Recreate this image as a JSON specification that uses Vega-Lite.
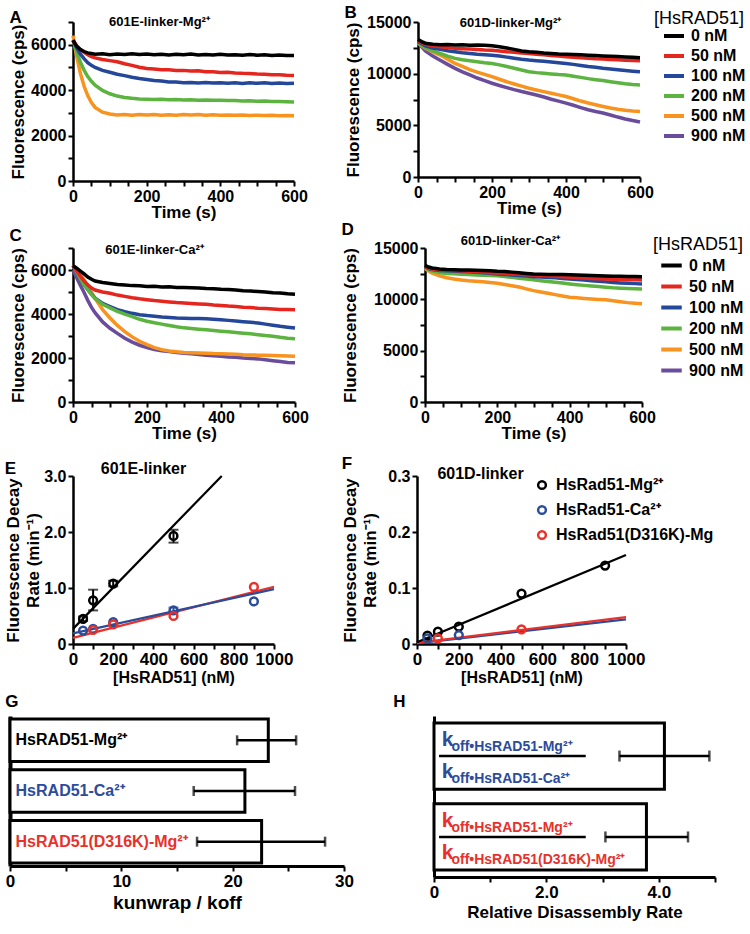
{
"$schema":"https://vega.github.io/schema/vega-lite/v6.json",
"background":"white",
"padding":{"left":4,"top":4,"right":2,"bottom":2},
"config":{
 "font":"Liberation Sans",
 "view":{"stroke":null},
 "axis":{"grid":false,"domainColor":"#000","domainWidth":2.5,"tickColor":"#000","tickWidth":2,"tickSize":5,"labelFont":"Liberation Sans","labelFontSize":16,"labelFontWeight":"bold","labelColor":"#000","labelPadding":2,"labelOverlap":false,"labelFlush":false,"titleFont":"Liberation Sans","titleFontSize":17,"titleFontWeight":"bold","titleColor":"#000","titlePadding":3},
 "title":{"font":"Liberation Sans","fontSize":17,"fontWeight":"bold","color":"#000","anchor":"start","frame":"bounds","baseline":"alphabetic"},
 "legend":{"labelFont":"Liberation Sans","titleFont":"Liberation Sans","labelColor":"#000","titleColor":"#000"}
},
"resolve":{"scale":{"color":"independent"},"legend":{"color":"independent"}},
"spacing":8,
"vconcat":[
{"hconcat":[
 {"width":1,"height":1,"data":{"values":[]},"mark":"rule","encoding":{}},
 {"vconcat":[
{"hconcat":[
 {"width":221,"height":159,"title":{"text":"A","offset":-13},
  "layer":[
   {"data":{"name":"dA"},"mark":{"type":"line","strokeWidth":3.5},
    "encoding":{
     "x":{"field":"t","type":"quantitative","scale":{"domain":[0,600],"nice":false},"axis":{"orient":"bottom","values":[0,50,100,150,200,250,300,350,400,450,500,550,600],"labelExpr":"datum.value % 200 === 0 ? datum.label : ''","title":"Time (s)","titlePadding":0}},
     "y":{"field":"v","type":"quantitative","scale":{"domain":[0,7000],"nice":false},"axis":{"values":[0,1000,2000,3000,4000,5000,6000,7000],"format":"d","labelExpr":"datum.value % 2000 === 0 ? datum.label : ''","title":"Fluorescence (cps)","titlePadding":3}},
     "color":{"field":"c","type":"nominal","sort":null,"scale":{"domain":[0,50,100,200,500,900],"range":["#000000","#e4261f","#24479a","#5cb33f","#f7931e","#6a4c9c"]},"legend":null}}},
   {"data":{"values":[]},"mark":"rule","encoding":{"x":{"field":"t","type":"quantitative","axis":{"orient":"top","domain":false,"ticks":false,"labels":false,"title":"601E-linker-Mg²⁺","titleFontSize":13,"titleX":86,"titleY":3,"titleAlign":"center","titleBaseline":"alphabetic"}}}}
  ]},
 {"width":222,"height":155,"title":{"text":"B","offset":-12},
  "layer":[
   {"data":{"name":"dB"},"mark":{"type":"line","strokeWidth":3.5},
    "encoding":{
     "x":{"field":"t","type":"quantitative","scale":{"domain":[0,600],"nice":false},"axis":{"orient":"bottom","values":[0,50,100,150,200,250,300,350,400,450,500,550,600],"labelExpr":"datum.value % 200 === 0 ? datum.label : ''","title":"Time (s)","titlePadding":0}},
     "y":{"field":"v","type":"quantitative","scale":{"domain":[0,15000],"nice":false},"axis":{"values":[0,2500,5000,7500,10000,12500,15000],"format":"d","labelExpr":"datum.value % 5000 === 0 ? datum.label : ''","title":"Fluorescence (cps)","titlePadding":4}},
     "color":{"field":"c","type":"nominal","sort":null,"scale":{"domain":[0,50,100,200,500,900],"range":["#000000","#e4261f","#24479a","#5cb33f","#f7931e","#6a4c9c"]},
      "legend":{"orient":"none","legendX":236,"legendY":-12,"title":"[HsRAD51]","titleFontSize":18,"titleFontWeight":"normal","titlePadding":-4,"symbolType":"stroke","symbolStrokeWidth":4,"symbolSize":400,"symbolOffset":8,"labelFontSize":16,"labelFontWeight":"bold","labelOffset":5,"rowPadding":0,"padding":0,"labelExpr":"datum.label + ' nM'"}}}},
   {"data":{"values":[]},"mark":"rule","encoding":{"x":{"field":"t","type":"quantitative","axis":{"orient":"top","domain":false,"ticks":false,"labels":false,"title":"601D-linker-Mg²⁺","titleFontSize":13,"titleX":92,"titleY":4,"titleAlign":"center","titleBaseline":"alphabetic"}}}}
  ]}
 ],"spacing":36,"resolve":{"scale":{"color":"independent"},"legend":{"color":"independent"}}},
{"vconcat":[
{"hconcat":[
 {"width":222,"height":154,"title":{"text":"C","offset":-5},
  "layer":[
   {"data":{"name":"dC"},"mark":{"type":"line","strokeWidth":3.5},
    "encoding":{
     "x":{"field":"t","type":"quantitative","scale":{"domain":[0,600],"nice":false},"axis":{"orient":"bottom","values":[0,50,100,150,200,250,300,350,400,450,500,550,600],"labelExpr":"datum.value % 200 === 0 ? datum.label : ''","title":"Time (s)","titlePadding":0}},
     "y":{"field":"v","type":"quantitative","scale":{"domain":[0,7000],"nice":false},"axis":{"values":[0,1000,2000,3000,4000,5000,6000,7000],"format":"d","labelExpr":"datum.value % 2000 === 0 ? datum.label : ''","title":"Fluorescence (cps)","titlePadding":3}},
     "color":{"field":"c","type":"nominal","sort":null,"scale":{"domain":[0,50,100,200,500,900],"range":["#000000","#e4261f","#24479a","#5cb33f","#f7931e","#6a4c9c"]},"legend":null}}},
   {"data":{"values":[]},"mark":"rule","encoding":{"x":{"field":"t","type":"quantitative","axis":{"orient":"top","domain":false,"ticks":false,"labels":false,"title":"601E-linker-Ca²⁺","titleFontSize":13,"titleX":81,"titleY":5,"titleAlign":"center","titleBaseline":"alphabetic"}}}}
  ]},
 {"width":217,"height":154,"title":{"text":"D","offset":-5},
  "layer":[
   {"data":{"name":"dD"},"mark":{"type":"line","strokeWidth":3.5},
    "encoding":{
     "x":{"field":"t","type":"quantitative","scale":{"domain":[0,600],"nice":false},"axis":{"orient":"bottom","values":[0,50,100,150,200,250,300,350,400,450,500,550,600],"labelExpr":"datum.value % 200 === 0 ? datum.label : ''","title":"Time (s)","titlePadding":0}},
     "y":{"field":"v","type":"quantitative","scale":{"domain":[0,15000],"nice":false},"axis":{"values":[0,2500,5000,7500,10000,12500,15000],"format":"d","labelExpr":"datum.value % 5000 === 0 ? datum.label : ''","title":"Fluorescence (cps)","titlePadding":14}},
     "color":{"field":"c","type":"nominal","sort":null,"scale":{"domain":[0,50,100,200,500,900],"range":["#000000","#e4261f","#24479a","#5cb33f","#f7931e","#6a4c9c"]},
      "legend":{"orient":"none","legendX":228,"legendY":-12,"title":"[HsRAD51]","titleFontSize":18,"titleFontWeight":"normal","titlePadding":-1,"symbolType":"stroke","symbolStrokeWidth":4,"symbolSize":420,"symbolOffset":6,"labelFontSize":16,"labelFontWeight":"bold","labelOffset":5,"rowPadding":0,"padding":0,"labelExpr":"datum.label + ' nM'"}}}},
   {"data":{"values":[]},"mark":"rule","encoding":{"x":{"field":"t","type":"quantitative","axis":{"orient":"top","domain":false,"ticks":false,"labels":false,"title":"601D-linker-Ca²⁺","titleFontSize":13,"titleX":85,"titleY":-4,"titleAlign":"center","titleBaseline":"alphabetic"}}}}
  ]}
 ],"spacing":32,"resolve":{"scale":{"color":"independent"},"legend":{"color":"independent"}}},
{"hconcat":[
 {"width":201,"height":168,"title":{"text":"E","offset":-18},
  "layer":[
   {"data":{"name":"fE"},"mark":{"type":"line","strokeWidth":2.2},
    "encoding":{
     "x":{"field":"x","type":"quantitative","scale":{"domain":[0,1000],"nice":false},"axis":{"orient":"bottom","values":[0,100,200,300,400,500,600,700,800,900,1000],"format":"d","labelExpr":"datum.value % 200 === 0 ? datum.label : ''","title":"[HsRAD51] (nM)","titleFontSize":16,"labelFontSize":17,"titlePadding":2}},
     "y":{"field":"y","type":"quantitative","scale":{"domain":[0,3],"nice":false},"axis":{"values":[0,0.5,1,1.5,2,2.5,3],"labelExpr":"datum.value === 0 ? '0' : (datum.value % 1 === 0 ? format(datum.value, '.1f') : '')","title":["Fluorescence Decay","Rate (min⁻¹)"],"titleLineHeight":20,"titlePadding":1}},
     "color":{"field":"s","type":"nominal","sort":null,"scale":{"domain":["HsRad51-Mg²⁺","HsRad51-Ca²⁺","HsRad51(D316K)-Mg"],"range":["#000000","#2b4c9b","#e8312a"]},"legend":null}}},
   {"data":{"name":"pE"},"transform":[{"filter":"isValid(datum.lo)"}],"mark":{"type":"rule","strokeWidth":2},
    "encoding":{"x":{"field":"x","type":"quantitative","axis":null},"y":{"field":"lo","type":"quantitative"},"y2":{"field":"hi"},"color":{"field":"s","type":"nominal","legend":null}}},
   {"data":{"name":"pE"},"transform":[{"filter":"isValid(datum.lo)"}],"mark":{"type":"tick","orient":"horizontal","size":10,"thickness":2},
    "encoding":{"x":{"field":"x","type":"quantitative","axis":null},"y":{"field":"lo","type":"quantitative"},"color":{"field":"s","type":"nominal","legend":null}}},
   {"data":{"name":"pE"},"transform":[{"filter":"isValid(datum.lo)"}],"mark":{"type":"tick","orient":"horizontal","size":10,"thickness":2},
    "encoding":{"x":{"field":"x","type":"quantitative","axis":null},"y":{"field":"hi","type":"quantitative"},"color":{"field":"s","type":"nominal","legend":null}}},
   {"data":{"name":"pE"},"mark":{"type":"point","shape":"circle","filled":false,"strokeWidth":2.5,"size":60,"opacity":1},
    "encoding":{"x":{"field":"x","type":"quantitative","axis":null},"y":{"field":"y","type":"quantitative"},"color":{"field":"s","type":"nominal","legend":null}}},
   {"data":{"values":[]},"mark":"rule","encoding":{"x":{"field":"x","type":"quantitative","axis":{"orient":"top","domain":false,"ticks":false,"labels":false,"title":"601E-linker","titleFontSize":16,"titleX":70,"titleY":-3,"titleAlign":"center","titleBaseline":"alphabetic"}}}}
  ]},
 {"width":209,"height":168,"title":{"text":"F","offset":-8},
  "layer":[
   {"data":{"name":"fF"},"mark":{"type":"line","strokeWidth":2.2},
    "encoding":{
     "x":{"field":"x","type":"quantitative","scale":{"domain":[0,1000],"nice":false},"axis":{"orient":"bottom","values":[0,100,200,300,400,500,600,700,800,900,1000],"format":"d","labelExpr":"datum.value % 200 === 0 ? datum.label : ''","title":"[HsRAD51] (nM)","titleFontSize":16,"labelFontSize":17,"titlePadding":2}},
     "y":{"field":"y","type":"quantitative","scale":{"domain":[0,0.3],"nice":false},"axis":{"values":[0,0.05,0.1,0.15,0.2,0.25,0.3],"labelExpr":"datum.value === 0 ? '0' : (abs(datum.value*10 - round(datum.value*10)) < 0.001 ? format(datum.value, '.1f') : '')","title":["Fluorescence Decay","Rate (min⁻¹)"],"titleLineHeight":20,"titlePadding":8}},
     "color":{"field":"s","type":"nominal","sort":null,"scale":{"domain":["HsRad51-Mg²⁺","HsRad51-Ca²⁺","HsRad51(D316K)-Mg"],"range":["#000000","#2b4c9b","#e8312a"]},
      "legend":{"orient":"none","legendX":117,"legendY":1,"title":null,"symbolType":"circle","symbolSize":60,"symbolStrokeWidth":2.5,"symbolFillColor":"transparent","labelFontSize":16,"labelFontWeight":"bold","labelOffset":6,"rowPadding":7,"padding":0}}}},
   {"data":{"name":"pF"},"mark":{"type":"point","shape":"circle","filled":false,"strokeWidth":2.5,"size":60,"opacity":1},
    "encoding":{"x":{"field":"x","type":"quantitative","axis":null},"y":{"field":"y","type":"quantitative"},"color":{"field":"s","type":"nominal",
      "legend":{"orient":"none","legendX":117,"legendY":1,"title":null,"symbolType":"circle","symbolSize":60,"symbolStrokeWidth":2.5,"symbolFillColor":"transparent","labelFontSize":16,"labelFontWeight":"bold","labelOffset":6,"rowPadding":7,"padding":0}}}},
   {"data":{"values":[]},"mark":"rule","encoding":{"x":{"field":"x","type":"quantitative","axis":{"orient":"top","domain":false,"ticks":false,"labels":false,"title":"601D-linker","titleFontSize":16,"titleX":63,"titleY":2,"titleAlign":"center","titleBaseline":"alphabetic"}}}}
  ]}
 ],"spacing":48,"resolve":{"scale":{"color":"independent"},"legend":{"color":"independent"}}}
 ],"spacing":14,"resolve":{"scale":{"color":"independent"},"legend":{"color":"independent"}}}
 ],"spacing":1,"resolve":{"scale":{"color":"independent"},"legend":{"color":"independent"}}}
 ],"spacing":-7,"resolve":{"scale":{"color":"independent"},"legend":{"color":"independent"}}},
{"hconcat":[
 {"width":334,"height":150,"title":{"text":"G","offset":5},
  "data":{"name":"dG"},
  "encoding":{"y":{"field":"k","type":"nominal","sort":null,"scale":{"paddingInner":0.16,"paddingOuter":0.06},"axis":{"title":null,"labels":false,"ticks":false,"domainWidth":4}}},
  "layer":[
   {"mark":{"type":"bar","fill":"#ffffff","stroke":"#000000","strokeWidth":3},
    "encoding":{"x":{"field":"v","type":"quantitative","scale":{"domain":[0,30],"nice":false},"axis":{"orient":"bottom","values":[0,5,10,15,20,25,30],"labelExpr":"datum.value % 10 === 0 ? datum.label : ''","title":"kunwrap / koff","titleFontSize":19,"titlePadding":4,"domainWidth":3,"labelFontSize":17}}}},
   {"mark":{"type":"rule","strokeWidth":2.5,"color":"#000000"},"encoding":{"x":{"field":"lo","type":"quantitative"},"x2":{"field":"hi"}}},
   {"mark":{"type":"tick","size":10,"thickness":2.5,"color":"#000000"},"encoding":{"x":{"field":"lo","type":"quantitative"}}},
   {"mark":{"type":"tick","size":10,"thickness":2.5,"color":"#000000"},"encoding":{"x":{"field":"hi","type":"quantitative"}}},
   {"mark":{"type":"text","align":"left","baseline":"middle","fontSize":16,"fontWeight":"bold"},
    "encoding":{"x":{"datum":0.5},"text":{"field":"k"},"color":{"field":"k","type":"nominal","sort":null,"scale":{"domain":["HsRAD51-Mg²⁺","HsRAD51-Ca²⁺","HsRAD51(D316K)-Mg²⁺"],"range":["#000000","#2b4c9b","#e8312a"]},"legend":null}}}
  ]},
 {"width":281,"height":161,"title":{"text":"H","offset":5,"dx":-36},
  "data":{"name":"dH"},
  "encoding":{"y":{"field":"k","type":"nominal","sort":null,"scale":{"paddingInner":0.18,"paddingOuter":0.085},"axis":{"title":null,"labels":false,"ticks":false,"domainWidth":3}}},
  "layer":[
   {"mark":{"type":"bar","fill":"#ffffff","stroke":"#000000","strokeWidth":3},
    "encoding":{"x":{"field":"v","type":"quantitative","scale":{"domain":[0,5],"nice":false},"axis":{"orient":"bottom","values":[0,1,2,3,4,5],"labelExpr":"datum.value % 2 === 0 ? (datum.value === 0 ? '0' : format(datum.value, '.1f')) : ''","title":"Relative Disassembly Rate","titleFontSize":17,"titlePadding":4,"domainWidth":3,"labelFontSize":17}}}},
   {"mark":{"type":"rule","strokeWidth":2.5,"color":"#000000"},"encoding":{"x":{"field":"lo","type":"quantitative"},"x2":{"field":"hi"}}},
   {"mark":{"type":"tick","size":11,"thickness":2.5,"color":"#000000"},"encoding":{"x":{"field":"lo","type":"quantitative"}}},
   {"mark":{"type":"tick","size":11,"thickness":2.5,"color":"#000000"},"encoding":{"x":{"field":"hi","type":"quantitative"}}},
   {"mark":{"type":"rule","strokeWidth":2.5,"color":"#000000"},"encoding":{"x":{"datum":0.09},"x2":{"datum":2.7}}},
   {"mark":{"type":"text","text":"k","align":"left","baseline":"alphabetic","fontSize":21,"fontWeight":"bold","dy":-10},
    "encoding":{"x":{"datum":0.14},"color":{"field":"k","type":"nominal","sort":null,"scale":{"domain":["ca","d316k"],"range":["#2b4c9b","#e8312a"]},"legend":null}}},
   {"mark":{"type":"text","text":"k","align":"left","baseline":"alphabetic","fontSize":21,"fontWeight":"bold","dy":22},
    "encoding":{"x":{"datum":0.14},"color":{"field":"k","type":"nominal","sort":null,"legend":null}}},
   {"mark":{"type":"text","align":"left","baseline":"alphabetic","fontSize":14,"fontWeight":"bold","dy":-5},
    "encoding":{"x":{"datum":0.31},"text":{"field":"num"},"color":{"field":"k","type":"nominal","sort":null,"legend":null}}},
   {"mark":{"type":"text","align":"left","baseline":"alphabetic","fontSize":14,"fontWeight":"bold","dy":27},
    "encoding":{"x":{"datum":0.31},"text":{"field":"den"},"color":{"field":"k","type":"nominal","sort":null,"legend":null}}}
  ]}
 ],"spacing":39,"resolve":{"scale":{"color":"independent"},"legend":{"color":"independent"}}}
],
"datasets":{
"fE":[{"s":"HsRad51(D316K)-Mg","x":0,"y":0.11},{"s":"HsRad51(D316K)-Mg","x":1000,"y":1.02},{"s":"HsRad51-Ca²⁺","x":0,"y":0.19},{"s":"HsRad51-Ca²⁺","x":1000,"y":0.98},{"s":"HsRad51-Mg²⁺","x":0,"y":0.27},{"s":"HsRad51-Mg²⁺","x":740,"y":3.0}],
"pE":[{"s":"HsRad51-Mg²⁺","x":50,"y":0.45,"lo":0.41,"hi":0.49},{"s":"HsRad51-Mg²⁺","x":100,"y":0.78,"lo":0.6,"hi":0.97},{"s":"HsRad51-Mg²⁺","x":200,"y":1.08,"lo":1.03,"hi":1.13},{"s":"HsRad51-Mg²⁺","x":500,"y":1.93,"lo":1.81,"hi":2.04},{"s":"HsRad51-Ca²⁺","x":50,"y":0.24},{"s":"HsRad51-Ca²⁺","x":100,"y":0.27},{"s":"HsRad51-Ca²⁺","x":200,"y":0.39},{"s":"HsRad51-Ca²⁺","x":500,"y":0.6,"lo":0.56,"hi":0.65},{"s":"HsRad51-Ca²⁺","x":900,"y":0.76},{"s":"HsRad51(D316K)-Mg","x":100,"y":0.25},{"s":"HsRad51(D316K)-Mg","x":200,"y":0.35},{"s":"HsRad51(D316K)-Mg","x":500,"y":0.5},{"s":"HsRad51(D316K)-Mg","x":900,"y":1.02}],
"fF":[{"s":"HsRad51-Ca²⁺","x":0,"y":0.001},{"s":"HsRad51-Ca²⁺","x":1000,"y":0.044},{"s":"HsRad51(D316K)-Mg","x":0,"y":0.002},{"s":"HsRad51(D316K)-Mg","x":1000,"y":0.048},{"s":"HsRad51-Mg²⁺","x":0,"y":0.003},{"s":"HsRad51-Mg²⁺","x":1000,"y":0.159}],
"pF":[{"s":"HsRad51-Mg²⁺","x":50,"y":0.015},{"s":"HsRad51-Mg²⁺","x":100,"y":0.022},{"s":"HsRad51-Mg²⁺","x":200,"y":0.031},{"s":"HsRad51-Mg²⁺","x":500,"y":0.09},{"s":"HsRad51-Mg²⁺","x":900,"y":0.14},{"s":"HsRad51-Ca²⁺","x":50,"y":0.01},{"s":"HsRad51-Ca²⁺","x":200,"y":0.016},{"s":"HsRad51(D316K)-Mg","x":100,"y":0.01},{"s":"HsRad51(D316K)-Mg","x":500,"y":0.026}],
"dG":[{"k":"HsRAD51-Mg²⁺","v":23.2,"lo":20.4,"hi":25.7},{"k":"HsRAD51-Ca²⁺","v":21.1,"lo":16.5,"hi":25.6},{"k":"HsRAD51(D316K)-Mg²⁺","v":22.6,"lo":16.8,"hi":28.3}],
"dH":[{"k":"ca","v":4.1,"lo":3.3,"hi":4.9,"num":"off•HsRAD51-Mg²⁺","den":"off•HsRAD51-Ca²⁺"},{"k":"d316k","v":3.78,"lo":3.05,"hi":4.52,"num":"off•HsRAD51-Mg²⁺","den":"off•HsRAD51(D316K)-Mg²⁺"}],
"dA":[
{"c":500,"t":0,"v":6400},{"c":500,"t":10,"v":5480},{"c":500,"t":20,"v":4740},{"c":500,"t":30,"v":4180},{"c":500,"t":40,"v":3760},{"c":500,"t":50,"v":3450},{"c":500,"t":60,"v":3240},{"c":500,"t":80,"v":3030},{"c":500,"t":100,"v":2950},{"c":500,"t":120,"v":2910},{"c":500,"t":140,"v":2930},{"c":500,"t":160,"v":2900},{"c":500,"t":180,"v":2930},{"c":500,"t":200,"v":2910},{"c":500,"t":220,"v":2930},{"c":500,"t":240,"v":2900},{"c":500,"t":260,"v":2920},{"c":500,"t":280,"v":2900},{"c":500,"t":300,"v":2930},{"c":500,"t":320,"v":2910},{"c":500,"t":340,"v":2930},{"c":500,"t":360,"v":2900},{"c":500,"t":380,"v":2920},{"c":500,"t":400,"v":2900},{"c":500,"t":420,"v":2910},{"c":500,"t":440,"v":2890},{"c":500,"t":460,"v":2910},{"c":500,"t":480,"v":2880},{"c":500,"t":500,"v":2900},{"c":500,"t":520,"v":2880},{"c":500,"t":540,"v":2890},{"c":500,"t":560,"v":2870},{"c":500,"t":580,"v":2880},{"c":500,"t":600,"v":2870},
{"c":200,"t":0,"v":6200},{"c":200,"t":10,"v":5680},{"c":200,"t":20,"v":5240},{"c":200,"t":30,"v":4880},{"c":200,"t":40,"v":4600},{"c":200,"t":50,"v":4390},{"c":200,"t":60,"v":4220},{"c":200,"t":80,"v":3990},{"c":200,"t":100,"v":3840},{"c":200,"t":120,"v":3740},{"c":200,"t":140,"v":3680},{"c":200,"t":160,"v":3640},{"c":200,"t":180,"v":3610},{"c":200,"t":200,"v":3600},{"c":200,"t":220,"v":3590},{"c":200,"t":240,"v":3600},{"c":200,"t":260,"v":3580},{"c":200,"t":280,"v":3590},{"c":200,"t":300,"v":3570},{"c":200,"t":320,"v":3580},{"c":200,"t":340,"v":3560},{"c":200,"t":360,"v":3570},{"c":200,"t":380,"v":3550},{"c":200,"t":400,"v":3560},{"c":200,"t":420,"v":3540},{"c":200,"t":440,"v":3540},{"c":200,"t":460,"v":3520},{"c":200,"t":480,"v":3530},{"c":200,"t":500,"v":3510},{"c":200,"t":520,"v":3520},{"c":200,"t":540,"v":3500},{"c":200,"t":560,"v":3500},{"c":200,"t":580,"v":3490},{"c":200,"t":600,"v":3480},
{"c":100,"t":0,"v":6200},{"c":100,"t":10,"v":5860},{"c":100,"t":20,"v":5590},{"c":100,"t":30,"v":5390},{"c":100,"t":40,"v":5210},{"c":100,"t":50,"v":5090},{"c":100,"t":60,"v":5000},{"c":100,"t":80,"v":4870},{"c":100,"t":100,"v":4790},{"c":100,"t":120,"v":4700},{"c":100,"t":140,"v":4640},{"c":100,"t":160,"v":4570},{"c":100,"t":180,"v":4510},{"c":100,"t":200,"v":4470},{"c":100,"t":220,"v":4420},{"c":100,"t":240,"v":4400},{"c":100,"t":260,"v":4360},{"c":100,"t":280,"v":4360},{"c":100,"t":300,"v":4330},{"c":100,"t":320,"v":4340},{"c":100,"t":340,"v":4320},{"c":100,"t":360,"v":4340},{"c":100,"t":380,"v":4310},{"c":100,"t":400,"v":4330},{"c":100,"t":420,"v":4300},{"c":100,"t":440,"v":4320},{"c":100,"t":460,"v":4290},{"c":100,"t":480,"v":4320},{"c":100,"t":500,"v":4300},{"c":100,"t":520,"v":4320},{"c":100,"t":540,"v":4290},{"c":100,"t":560,"v":4310},{"c":100,"t":580,"v":4290},{"c":100,"t":600,"v":4300},
{"c":50,"t":0,"v":6200},{"c":50,"t":10,"v":5960},{"c":50,"t":20,"v":5790},{"c":50,"t":30,"v":5660},{"c":50,"t":40,"v":5560},{"c":50,"t":50,"v":5470},{"c":50,"t":60,"v":5420},{"c":50,"t":80,"v":5350},{"c":50,"t":100,"v":5300},{"c":50,"t":120,"v":5250},{"c":50,"t":140,"v":5160},{"c":50,"t":160,"v":5090},{"c":50,"t":180,"v":5010},{"c":50,"t":200,"v":4950},{"c":50,"t":220,"v":4930},{"c":50,"t":240,"v":4900},{"c":50,"t":260,"v":4900},{"c":50,"t":280,"v":4870},{"c":50,"t":300,"v":4870},{"c":50,"t":320,"v":4840},{"c":50,"t":340,"v":4850},{"c":50,"t":360,"v":4810},{"c":50,"t":380,"v":4810},{"c":50,"t":400,"v":4780},{"c":50,"t":420,"v":4790},{"c":50,"t":440,"v":4760},{"c":50,"t":460,"v":4740},{"c":50,"t":480,"v":4730},{"c":50,"t":500,"v":4710},{"c":50,"t":520,"v":4700},{"c":50,"t":540,"v":4680},{"c":50,"t":560,"v":4680},{"c":50,"t":580,"v":4660},{"c":50,"t":600,"v":4650},
{"c":0,"t":0,"v":6200},{"c":0,"t":10,"v":5930},{"c":0,"t":20,"v":5790},{"c":0,"t":30,"v":5700},{"c":0,"t":40,"v":5640},{"c":0,"t":50,"v":5610},{"c":0,"t":60,"v":5580},{"c":0,"t":80,"v":5600},{"c":0,"t":100,"v":5560},{"c":0,"t":120,"v":5590},{"c":0,"t":140,"v":5570},{"c":0,"t":160,"v":5600},{"c":0,"t":180,"v":5570},{"c":0,"t":200,"v":5590},{"c":0,"t":220,"v":5560},{"c":0,"t":240,"v":5580},{"c":0,"t":260,"v":5550},{"c":0,"t":280,"v":5580},{"c":0,"t":300,"v":5560},{"c":0,"t":320,"v":5590},{"c":0,"t":340,"v":5550},{"c":0,"t":360,"v":5570},{"c":0,"t":380,"v":5550},{"c":0,"t":400,"v":5580},{"c":0,"t":420,"v":5550},{"c":0,"t":440,"v":5560},{"c":0,"t":460,"v":5540},{"c":0,"t":480,"v":5570},{"c":0,"t":500,"v":5540},{"c":0,"t":520,"v":5560},{"c":0,"t":540,"v":5530},{"c":0,"t":560,"v":5550},{"c":0,"t":580,"v":5530},{"c":0,"t":600,"v":5530}
],
"dB":[
{"c":900,"t":0,"v":13000},{"c":900,"t":10,"v":12600},{"c":900,"t":20,"v":12200},{"c":900,"t":40,"v":11700},{"c":900,"t":60,"v":11300},{"c":900,"t":80,"v":10900},{"c":900,"t":100,"v":10510},{"c":900,"t":120,"v":10180},{"c":900,"t":140,"v":9880},{"c":900,"t":160,"v":9580},{"c":900,"t":180,"v":9320},{"c":900,"t":200,"v":9070},{"c":900,"t":220,"v":8860},{"c":900,"t":240,"v":8650},{"c":900,"t":260,"v":8450},{"c":900,"t":280,"v":8270},{"c":900,"t":300,"v":8110},{"c":900,"t":320,"v":7930},{"c":900,"t":340,"v":7740},{"c":900,"t":360,"v":7530},{"c":900,"t":380,"v":7340},{"c":900,"t":400,"v":7150},{"c":900,"t":420,"v":6940},{"c":900,"t":440,"v":6720},{"c":900,"t":460,"v":6510},{"c":900,"t":480,"v":6340},{"c":900,"t":500,"v":6190},{"c":900,"t":520,"v":6000},{"c":900,"t":540,"v":5800},{"c":900,"t":560,"v":5620},{"c":900,"t":580,"v":5460},{"c":900,"t":600,"v":5320},
{"c":500,"t":0,"v":13000},{"c":500,"t":10,"v":12700},{"c":500,"t":20,"v":12450},{"c":500,"t":40,"v":12100},{"c":500,"t":60,"v":11800},{"c":500,"t":80,"v":11400},{"c":500,"t":100,"v":11000},{"c":500,"t":120,"v":10700},{"c":500,"t":140,"v":10400},{"c":500,"t":160,"v":10150},{"c":500,"t":180,"v":9930},{"c":500,"t":200,"v":9710},{"c":500,"t":220,"v":9460},{"c":500,"t":240,"v":9220},{"c":500,"t":260,"v":9000},{"c":500,"t":280,"v":8790},{"c":500,"t":300,"v":8590},{"c":500,"t":320,"v":8420},{"c":500,"t":340,"v":8260},{"c":500,"t":360,"v":8100},{"c":500,"t":380,"v":7950},{"c":500,"t":400,"v":7790},{"c":500,"t":420,"v":7570},{"c":500,"t":440,"v":7350},{"c":500,"t":460,"v":7160},{"c":500,"t":480,"v":6990},{"c":500,"t":500,"v":6830},{"c":500,"t":520,"v":6680},{"c":500,"t":540,"v":6550},{"c":500,"t":560,"v":6450},{"c":500,"t":580,"v":6380},{"c":500,"t":600,"v":6350},
{"c":200,"t":0,"v":13000},{"c":200,"t":10,"v":12750},{"c":200,"t":20,"v":12500},{"c":200,"t":40,"v":12200},{"c":200,"t":60,"v":11950},{"c":200,"t":80,"v":11700},{"c":200,"t":100,"v":11480},{"c":200,"t":120,"v":11350},{"c":200,"t":140,"v":11250},{"c":200,"t":160,"v":11150},{"c":200,"t":180,"v":11060},{"c":200,"t":200,"v":10990},{"c":200,"t":220,"v":10850},{"c":200,"t":240,"v":10700},{"c":200,"t":260,"v":10530},{"c":200,"t":280,"v":10350},{"c":200,"t":300,"v":10190},{"c":200,"t":320,"v":10100},{"c":200,"t":340,"v":10030},{"c":200,"t":360,"v":9970},{"c":200,"t":380,"v":9910},{"c":200,"t":400,"v":9870},{"c":200,"t":420,"v":9760},{"c":200,"t":440,"v":9640},{"c":200,"t":460,"v":9520},{"c":200,"t":480,"v":9420},{"c":200,"t":500,"v":9330},{"c":200,"t":520,"v":9220},{"c":200,"t":540,"v":9120},{"c":200,"t":560,"v":9030},{"c":200,"t":580,"v":8960},{"c":200,"t":600,"v":8910},
{"c":100,"t":0,"v":13100},{"c":100,"t":10,"v":12900},{"c":100,"t":20,"v":12700},{"c":100,"t":40,"v":12480},{"c":100,"t":60,"v":12350},{"c":100,"t":80,"v":12220},{"c":100,"t":100,"v":12120},{"c":100,"t":120,"v":12020},{"c":100,"t":140,"v":11950},{"c":100,"t":160,"v":11880},{"c":100,"t":180,"v":11830},{"c":100,"t":200,"v":11790},{"c":100,"t":220,"v":11700},{"c":100,"t":240,"v":11600},{"c":100,"t":260,"v":11500},{"c":100,"t":280,"v":11400},{"c":100,"t":300,"v":11320},{"c":100,"t":320,"v":11260},{"c":100,"t":340,"v":11200},{"c":100,"t":360,"v":11140},{"c":100,"t":380,"v":11060},{"c":100,"t":400,"v":10990},{"c":100,"t":420,"v":10900},{"c":100,"t":440,"v":10800},{"c":100,"t":460,"v":10700},{"c":100,"t":480,"v":10620},{"c":100,"t":500,"v":10520},{"c":100,"t":520,"v":10450},{"c":100,"t":540,"v":10370},{"c":100,"t":560,"v":10300},{"c":100,"t":580,"v":10240},{"c":100,"t":600,"v":10190},
{"c":50,"t":0,"v":13200},{"c":50,"t":10,"v":13000},{"c":50,"t":20,"v":12850},{"c":50,"t":40,"v":12700},{"c":50,"t":60,"v":12600},{"c":50,"t":80,"v":12520},{"c":50,"t":100,"v":12450},{"c":50,"t":120,"v":12420},{"c":50,"t":140,"v":12380},{"c":50,"t":160,"v":12350},{"c":50,"t":180,"v":12300},{"c":50,"t":200,"v":12270},{"c":50,"t":220,"v":12200},{"c":50,"t":240,"v":12120},{"c":50,"t":260,"v":12060},{"c":50,"t":280,"v":12000},{"c":50,"t":300,"v":11950},{"c":50,"t":320,"v":11880},{"c":50,"t":340,"v":11830},{"c":50,"t":360,"v":11760},{"c":50,"t":380,"v":11700},{"c":50,"t":400,"v":11640},{"c":50,"t":420,"v":11600},{"c":50,"t":440,"v":11540},{"c":50,"t":460,"v":11500},{"c":50,"t":480,"v":11450},{"c":50,"t":500,"v":11420},{"c":50,"t":520,"v":11380},{"c":50,"t":540,"v":11340},{"c":50,"t":560,"v":11300},{"c":50,"t":580,"v":11270},{"c":50,"t":600,"v":11250},
{"c":0,"t":0,"v":13300},{"c":0,"t":10,"v":13100},{"c":0,"t":20,"v":12950},{"c":0,"t":40,"v":12850},{"c":0,"t":60,"v":12800},{"c":0,"t":80,"v":12820},{"c":0,"t":100,"v":12780},{"c":0,"t":120,"v":12800},{"c":0,"t":140,"v":12760},{"c":0,"t":160,"v":12780},{"c":0,"t":180,"v":12740},{"c":0,"t":200,"v":12700},{"c":0,"t":220,"v":12600},{"c":0,"t":240,"v":12480},{"c":0,"t":260,"v":12350},{"c":0,"t":280,"v":12200},{"c":0,"t":300,"v":12120},{"c":0,"t":320,"v":12080},{"c":0,"t":340,"v":12000},{"c":0,"t":360,"v":11950},{"c":0,"t":380,"v":11900},{"c":0,"t":400,"v":11880},{"c":0,"t":420,"v":11850},{"c":0,"t":440,"v":11820},{"c":0,"t":460,"v":11780},{"c":0,"t":480,"v":11750},{"c":0,"t":500,"v":11720},{"c":0,"t":520,"v":11680},{"c":0,"t":540,"v":11650},{"c":0,"t":560,"v":11620},{"c":0,"t":580,"v":11580},{"c":0,"t":600,"v":11550}
],
"dC":[
{"c":900,"t":0,"v":6000},{"c":900,"t":10,"v":5650},{"c":900,"t":20,"v":5300},{"c":900,"t":30,"v":4980},{"c":900,"t":40,"v":4620},{"c":900,"t":50,"v":4300},{"c":900,"t":60,"v":4050},{"c":900,"t":80,"v":3640},{"c":900,"t":100,"v":3350},{"c":900,"t":120,"v":3120},{"c":900,"t":140,"v":2900},{"c":900,"t":160,"v":2720},{"c":900,"t":180,"v":2580},{"c":900,"t":200,"v":2470},{"c":900,"t":220,"v":2390},{"c":900,"t":240,"v":2330},{"c":900,"t":260,"v":2290},{"c":900,"t":280,"v":2250},{"c":900,"t":300,"v":2220},{"c":900,"t":320,"v":2190},{"c":900,"t":340,"v":2160},{"c":900,"t":360,"v":2130},{"c":900,"t":380,"v":2100},{"c":900,"t":400,"v":2080},{"c":900,"t":420,"v":2050},{"c":900,"t":440,"v":2030},{"c":900,"t":460,"v":2000},{"c":900,"t":480,"v":1980},{"c":900,"t":500,"v":1960},{"c":900,"t":520,"v":1920},{"c":900,"t":540,"v":1880},{"c":900,"t":560,"v":1840},{"c":900,"t":580,"v":1800},{"c":900,"t":600,"v":1780},
{"c":500,"t":0,"v":6200},{"c":500,"t":10,"v":6000},{"c":500,"t":20,"v":5800},{"c":500,"t":30,"v":5550},{"c":500,"t":40,"v":5270},{"c":500,"t":50,"v":4980},{"c":500,"t":60,"v":4700},{"c":500,"t":80,"v":4200},{"c":500,"t":100,"v":3820},{"c":500,"t":120,"v":3480},{"c":500,"t":140,"v":3200},{"c":500,"t":160,"v":2960},{"c":500,"t":180,"v":2760},{"c":500,"t":200,"v":2610},{"c":500,"t":220,"v":2470},{"c":500,"t":240,"v":2380},{"c":500,"t":260,"v":2320},{"c":500,"t":280,"v":2280},{"c":500,"t":300,"v":2250},{"c":500,"t":320,"v":2240},{"c":500,"t":340,"v":2230},{"c":500,"t":360,"v":2220},{"c":500,"t":380,"v":2200},{"c":500,"t":400,"v":2190},{"c":500,"t":420,"v":2180},{"c":500,"t":440,"v":2170},{"c":500,"t":460,"v":2150},{"c":500,"t":480,"v":2140},{"c":500,"t":500,"v":2130},{"c":500,"t":520,"v":2120},{"c":500,"t":540,"v":2110},{"c":500,"t":560,"v":2100},{"c":500,"t":580,"v":2090},{"c":500,"t":600,"v":2080},
{"c":100,"t":0,"v":6200},{"c":100,"t":10,"v":5900},{"c":100,"t":20,"v":5600},{"c":100,"t":30,"v":5330},{"c":100,"t":40,"v":5110},{"c":100,"t":50,"v":4900},{"c":100,"t":60,"v":4720},{"c":100,"t":80,"v":4480},{"c":100,"t":100,"v":4340},{"c":100,"t":120,"v":4200},{"c":100,"t":140,"v":4100},{"c":100,"t":160,"v":4030},{"c":100,"t":180,"v":3970},{"c":100,"t":200,"v":3930},{"c":100,"t":220,"v":3900},{"c":100,"t":240,"v":3860},{"c":100,"t":260,"v":3840},{"c":100,"t":280,"v":3820},{"c":100,"t":300,"v":3810},{"c":100,"t":320,"v":3800},{"c":100,"t":340,"v":3790},{"c":100,"t":360,"v":3780},{"c":100,"t":380,"v":3760},{"c":100,"t":400,"v":3740},{"c":100,"t":420,"v":3710},{"c":100,"t":440,"v":3680},{"c":100,"t":460,"v":3650},{"c":100,"t":480,"v":3620},{"c":100,"t":500,"v":3590},{"c":100,"t":520,"v":3540},{"c":100,"t":540,"v":3490},{"c":100,"t":560,"v":3440},{"c":100,"t":580,"v":3400},{"c":100,"t":600,"v":3360},
{"c":200,"t":0,"v":6200},{"c":200,"t":10,"v":5900},{"c":200,"t":20,"v":5600},{"c":200,"t":30,"v":5330},{"c":200,"t":40,"v":5100},{"c":200,"t":50,"v":4880},{"c":200,"t":60,"v":4700},{"c":200,"t":80,"v":4440},{"c":200,"t":100,"v":4280},{"c":200,"t":120,"v":4120},{"c":200,"t":140,"v":3990},{"c":200,"t":160,"v":3880},{"c":200,"t":180,"v":3760},{"c":200,"t":200,"v":3670},{"c":200,"t":220,"v":3600},{"c":200,"t":240,"v":3540},{"c":200,"t":260,"v":3480},{"c":200,"t":280,"v":3420},{"c":200,"t":300,"v":3370},{"c":200,"t":320,"v":3340},{"c":200,"t":340,"v":3310},{"c":200,"t":360,"v":3280},{"c":200,"t":380,"v":3250},{"c":200,"t":400,"v":3220},{"c":200,"t":420,"v":3190},{"c":200,"t":440,"v":3160},{"c":200,"t":460,"v":3130},{"c":200,"t":480,"v":3100},{"c":200,"t":500,"v":3060},{"c":200,"t":520,"v":3020},{"c":200,"t":540,"v":2990},{"c":200,"t":560,"v":2940},{"c":200,"t":580,"v":2900},{"c":200,"t":600,"v":2870},
{"c":50,"t":0,"v":6200},{"c":50,"t":10,"v":5950},{"c":50,"t":20,"v":5720},{"c":50,"t":30,"v":5500},{"c":50,"t":40,"v":5320},{"c":50,"t":50,"v":5180},{"c":50,"t":60,"v":5090},{"c":50,"t":80,"v":5000},{"c":50,"t":100,"v":4940},{"c":50,"t":120,"v":4860},{"c":50,"t":140,"v":4800},{"c":50,"t":160,"v":4740},{"c":50,"t":180,"v":4690},{"c":50,"t":200,"v":4650},{"c":50,"t":220,"v":4610},{"c":50,"t":240,"v":4580},{"c":50,"t":260,"v":4550},{"c":50,"t":280,"v":4520},{"c":50,"t":300,"v":4500},{"c":50,"t":320,"v":4480},{"c":50,"t":340,"v":4460},{"c":50,"t":360,"v":4440},{"c":50,"t":380,"v":4410},{"c":50,"t":400,"v":4390},{"c":50,"t":420,"v":4360},{"c":50,"t":440,"v":4340},{"c":50,"t":460,"v":4310},{"c":50,"t":480,"v":4290},{"c":50,"t":500,"v":4260},{"c":50,"t":520,"v":4250},{"c":50,"t":540,"v":4230},{"c":50,"t":560,"v":4210},{"c":50,"t":580,"v":4200},{"c":50,"t":600,"v":4190},
{"c":0,"t":0,"v":6200},{"c":0,"t":10,"v":6080},{"c":0,"t":20,"v":5950},{"c":0,"t":30,"v":5820},{"c":0,"t":40,"v":5680},{"c":0,"t":50,"v":5580},{"c":0,"t":60,"v":5500},{"c":0,"t":80,"v":5430},{"c":0,"t":100,"v":5390},{"c":0,"t":120,"v":5340},{"c":0,"t":140,"v":5320},{"c":0,"t":160,"v":5290},{"c":0,"t":180,"v":5280},{"c":0,"t":200,"v":5250},{"c":0,"t":220,"v":5260},{"c":0,"t":240,"v":5230},{"c":0,"t":260,"v":5240},{"c":0,"t":280,"v":5210},{"c":0,"t":300,"v":5200},{"c":0,"t":320,"v":5190},{"c":0,"t":340,"v":5180},{"c":0,"t":360,"v":5160},{"c":0,"t":380,"v":5150},{"c":0,"t":400,"v":5120},{"c":0,"t":420,"v":5110},{"c":0,"t":440,"v":5090},{"c":0,"t":460,"v":5060},{"c":0,"t":480,"v":5040},{"c":0,"t":500,"v":5020},{"c":0,"t":520,"v":5000},{"c":0,"t":540,"v":4970},{"c":0,"t":560,"v":4950},{"c":0,"t":580,"v":4920},{"c":0,"t":600,"v":4900}
],
"dD":[
{"c":900,"t":0,"v":13100},{"c":900,"t":10,"v":12950},{"c":900,"t":20,"v":12880},{"c":900,"t":40,"v":12800},{"c":900,"t":60,"v":12760},{"c":900,"t":80,"v":12720},{"c":900,"t":100,"v":12680},{"c":900,"t":120,"v":12650},{"c":900,"t":140,"v":12620},{"c":900,"t":160,"v":12590},{"c":900,"t":180,"v":12560},{"c":900,"t":200,"v":12530},{"c":900,"t":220,"v":12500},{"c":900,"t":240,"v":12470},{"c":900,"t":260,"v":12440},{"c":900,"t":280,"v":12410},{"c":900,"t":300,"v":12380},{"c":900,"t":320,"v":12350},{"c":900,"t":340,"v":12320},{"c":900,"t":360,"v":12290},{"c":900,"t":380,"v":12260},{"c":900,"t":400,"v":12230},{"c":900,"t":420,"v":12200},{"c":900,"t":440,"v":12170},{"c":900,"t":460,"v":12140},{"c":900,"t":480,"v":12110},{"c":900,"t":500,"v":12080},{"c":900,"t":520,"v":12060},{"c":900,"t":540,"v":12040},{"c":900,"t":560,"v":12020},{"c":900,"t":580,"v":12000},{"c":900,"t":600,"v":11990},
{"c":500,"t":0,"v":13000},{"c":500,"t":10,"v":12750},{"c":500,"t":20,"v":12550},{"c":500,"t":40,"v":12300},{"c":500,"t":60,"v":12100},{"c":500,"t":80,"v":11980},{"c":500,"t":100,"v":11890},{"c":500,"t":120,"v":11820},{"c":500,"t":140,"v":11770},{"c":500,"t":160,"v":11720},{"c":500,"t":180,"v":11650},{"c":500,"t":200,"v":11570},{"c":500,"t":220,"v":11450},{"c":500,"t":240,"v":11330},{"c":500,"t":260,"v":11200},{"c":500,"t":280,"v":11020},{"c":500,"t":300,"v":10850},{"c":500,"t":320,"v":10720},{"c":500,"t":340,"v":10590},{"c":500,"t":360,"v":10460},{"c":500,"t":380,"v":10330},{"c":500,"t":400,"v":10200},{"c":500,"t":420,"v":10150},{"c":500,"t":440,"v":10090},{"c":500,"t":460,"v":10040},{"c":500,"t":480,"v":9990},{"c":500,"t":500,"v":9950},{"c":500,"t":520,"v":9860},{"c":500,"t":540,"v":9770},{"c":500,"t":560,"v":9680},{"c":500,"t":580,"v":9620},{"c":500,"t":600,"v":9560},
{"c":200,"t":0,"v":13100},{"c":200,"t":10,"v":12900},{"c":200,"t":20,"v":12750},{"c":200,"t":40,"v":12600},{"c":200,"t":60,"v":12520},{"c":200,"t":80,"v":12480},{"c":200,"t":100,"v":12450},{"c":200,"t":120,"v":12420},{"c":200,"t":140,"v":12380},{"c":200,"t":160,"v":12350},{"c":200,"t":180,"v":12320},{"c":200,"t":200,"v":12300},{"c":200,"t":220,"v":12220},{"c":200,"t":240,"v":12140},{"c":200,"t":260,"v":12060},{"c":200,"t":280,"v":11980},{"c":200,"t":300,"v":11900},{"c":200,"t":320,"v":11820},{"c":200,"t":340,"v":11740},{"c":200,"t":360,"v":11660},{"c":200,"t":380,"v":11580},{"c":200,"t":400,"v":11500},{"c":200,"t":420,"v":11430},{"c":200,"t":440,"v":11360},{"c":200,"t":460,"v":11300},{"c":200,"t":480,"v":11240},{"c":200,"t":500,"v":11180},{"c":200,"t":520,"v":11120},{"c":200,"t":540,"v":11080},{"c":200,"t":560,"v":11050},{"c":200,"t":580,"v":11030},{"c":200,"t":600,"v":11010},
{"c":100,"t":0,"v":13200},{"c":100,"t":10,"v":13000},{"c":100,"t":20,"v":12900},{"c":100,"t":40,"v":12820},{"c":100,"t":60,"v":12780},{"c":100,"t":80,"v":12750},{"c":100,"t":100,"v":12720},{"c":100,"t":120,"v":12680},{"c":100,"t":140,"v":12640},{"c":100,"t":160,"v":12600},{"c":100,"t":180,"v":12540},{"c":100,"t":200,"v":12470},{"c":100,"t":220,"v":12420},{"c":100,"t":240,"v":12380},{"c":100,"t":260,"v":12330},{"c":100,"t":280,"v":12270},{"c":100,"t":300,"v":12210},{"c":100,"t":320,"v":12170},{"c":100,"t":340,"v":12130},{"c":100,"t":360,"v":12090},{"c":100,"t":380,"v":12040},{"c":100,"t":400,"v":11990},{"c":100,"t":420,"v":11940},{"c":100,"t":440,"v":11880},{"c":100,"t":460,"v":11820},{"c":100,"t":480,"v":11760},{"c":100,"t":500,"v":11700},{"c":100,"t":520,"v":11650},{"c":100,"t":540,"v":11600},{"c":100,"t":560,"v":11560},{"c":100,"t":580,"v":11530},{"c":100,"t":600,"v":11500},
{"c":50,"t":0,"v":13200},{"c":50,"t":10,"v":13050},{"c":50,"t":20,"v":12950},{"c":50,"t":40,"v":12880},{"c":50,"t":60,"v":12850},{"c":50,"t":80,"v":12820},{"c":50,"t":100,"v":12780},{"c":50,"t":120,"v":12740},{"c":50,"t":140,"v":12700},{"c":50,"t":160,"v":12650},{"c":50,"t":180,"v":12600},{"c":50,"t":200,"v":12560},{"c":50,"t":220,"v":12520},{"c":50,"t":240,"v":12480},{"c":50,"t":260,"v":12440},{"c":50,"t":280,"v":12400},{"c":50,"t":300,"v":12380},{"c":50,"t":320,"v":12340},{"c":50,"t":340,"v":12300},{"c":50,"t":360,"v":12250},{"c":50,"t":380,"v":12200},{"c":50,"t":400,"v":12150},{"c":50,"t":420,"v":12110},{"c":50,"t":440,"v":12080},{"c":50,"t":460,"v":12040},{"c":50,"t":480,"v":12000},{"c":50,"t":500,"v":11970},{"c":50,"t":520,"v":11950},{"c":50,"t":540,"v":11930},{"c":50,"t":560,"v":11910},{"c":50,"t":580,"v":11900},{"c":50,"t":600,"v":11890},
{"c":0,"t":0,"v":13300},{"c":0,"t":10,"v":13150},{"c":0,"t":20,"v":13050},{"c":0,"t":40,"v":12950},{"c":0,"t":60,"v":12900},{"c":0,"t":80,"v":12880},{"c":0,"t":100,"v":12860},{"c":0,"t":120,"v":12850},{"c":0,"t":140,"v":12830},{"c":0,"t":160,"v":12800},{"c":0,"t":180,"v":12780},{"c":0,"t":200,"v":12730},{"c":0,"t":220,"v":12700},{"c":0,"t":240,"v":12650},{"c":0,"t":260,"v":12580},{"c":0,"t":280,"v":12520},{"c":0,"t":300,"v":12470},{"c":0,"t":320,"v":12450},{"c":0,"t":340,"v":12430},{"c":0,"t":360,"v":12420},{"c":0,"t":380,"v":12410},{"c":0,"t":400,"v":12400},{"c":0,"t":420,"v":12380},{"c":0,"t":440,"v":12350},{"c":0,"t":460,"v":12320},{"c":0,"t":480,"v":12300},{"c":0,"t":500,"v":12280},{"c":0,"t":520,"v":12260},{"c":0,"t":540,"v":12250},{"c":0,"t":560,"v":12230},{"c":0,"t":580,"v":12220},{"c":0,"t":600,"v":12210}
]
}
}
